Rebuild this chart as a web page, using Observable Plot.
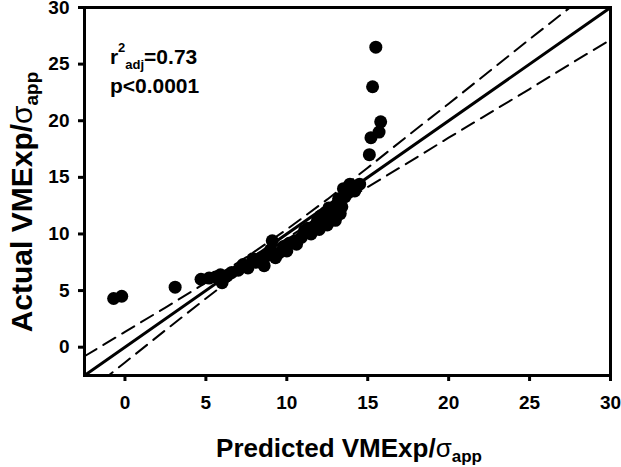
<!DOCTYPE html>
<html><head><meta charset="utf-8">
<script src="https://cdn.jsdelivr.net/npm/d3@7"></script>
<script src="https://cdn.jsdelivr.net/npm/@observablehq/plot@0.6"></script>
<style>
body{margin:0;background:#fff} svg{display:block}
</style>
</head><body><div id="chart"></div>
<script>
// Predicted vs actual VMExp/sigma_app
const predicted = [-0.7, -0.2, 3.1, 4.7, 5.2, 5.6, 5.9, 6.0, 6.3, 6.6, 7.0, 7.3, 7.6, 7.9, 8.1, 8.4, 8.6, 8.8, 9.0, 9.1,
  9.3, 9.5, 9.8, 10.0, 10.2, 10.5, 10.6, 10.9, 11.1, 11.3, 11.5, 11.7, 11.9, 12.0, 12.1, 12.3, 12.4, 12.5, 12.6, 12.8,
  12.9, 13.0, 13.1, 13.2, 13.3, 13.4, 13.5, 13.6, 13.9, 14.2, 14.5, 15.1, 15.2, 15.7, 15.8, 15.3, 15.5];
const actual = [4.3, 4.5, 5.3, 6.0, 6.1, 6.2, 6.4, 5.7, 6.3, 6.6, 6.8, 7.3, 7.0, 7.8, 7.5, 7.9, 7.2, 8.1, 8.6, 9.4,
  7.9, 8.3, 8.9, 8.5, 9.2, 9.4, 9.1, 9.7, 10.3, 10.5, 10.0, 10.7, 11.2, 10.4, 11.6, 11.0, 11.9, 10.8, 12.3, 11.4,
  12.0, 11.2, 12.6, 13.1, 11.8, 12.4, 14.0, 13.3, 14.4, 13.8, 14.4, 17.0, 18.5, 19.0, 19.9, 23.0, 26.5];
// 95% band (dashed)
const bandX = [-2.5, 0, 2.5, 5, 7.5, 10, 12.5, 15, 17.5, 20, 22.5, 25, 27.5, 30];
const bandUpper = [-0.8, 1.35, 3.5, 5.7, 7.95, 10.4, 13.05, 15.85, 18.7, 21.5, 24.35, 27.2, 30.0, 32.85];
const bandLower = [-4.2, -1.35, 1.5, 4.3, 7.05, 9.6, 11.95, 14.15, 16.3, 18.5, 20.65, 22.8, 25.0, 27.15];
const identityLine = [-2.5, 30];
const xTicks = [0, 5, 10, 15, 20, 25, 30];
const yTicks = [0, 5, 10, 15, 20, 25, 30];
const r2Value = "=0.73";
const pText = "p<0.0001";
const annotX = -0.9;
const annotY = [25.0, 22.4];

const points = predicted.map((x, i) => ({x, y: actual[i]}));
const band = bandX.map((x, i) => ({x, upper: bandUpper[i], lower: bandLower[i]}));

const font = "Arial, 'Liberation Sans', sans-serif";
const plot = Plot.plot({
  width: 621, height: 467,
  marginLeft: 84, marginRight: 11, marginTop: 7, marginBottom: 92,
  style: {fontFamily: font, fontSize: "19px", fontWeight: "bold", color: "black", background: "white", overflow: "visible"},
  x: {domain: [-2.5, 30]},
  y: {domain: [-2.5, 30]},
  marks: [
    Plot.line(band, {x: "x", y: "upper", stroke: "black", strokeWidth: 2, strokeDasharray: "14,8", clip: true}),
    Plot.line(band, {x: "x", y: "lower", stroke: "black", strokeWidth: 2, strokeDasharray: "14,8", clip: true}),
    Plot.line(identityLine, {x: d => d, y: d => d, stroke: "black", strokeWidth: 3, clip: true}),
    Plot.dot(points, {x: "x", y: "y", r: 6.5, fill: "black", stroke: null}),
    Plot.axisX({ticks: xTicks, tickSize: 6, tickPadding: 14, strokeWidth: 3, label: null, fontWeight: "bold"}),
    Plot.axisY({ticks: yTicks, tickSize: 6, tickPadding: 9, strokeWidth: 3, label: null, fontWeight: "bold"}),
    Plot.frame({stroke: "black", strokeWidth: 3})
  ]
});
document.getElementById("chart").appendChild(plot);

const svg = d3.select(plot);
svg.selectAll("text").attr("font-weight", "bold").style("font-weight", "bold").style("font-size", "19px");

const sx = plot.scale("x"), sy = plot.scale("y");
const [x0, x1] = sx.range, [y0, y1] = sy.range;

// x title
const xt = svg.append("text").attr("x", (x0 + x1) / 2 + 2).attr("y", y0 + 82)
  .attr("text-anchor", "middle").attr("font-size", 26).attr("font-weight", "bold").attr("font-family", font).attr("fill", "black");
xt.append("tspan").text("Predicted VMExp/");
xt.append("tspan").attr("font-weight", "normal").text("σ");
xt.append("tspan").attr("font-size", 17).attr("dy", 5).text("app");

// y title
const yt = svg.append("text").attr("transform", `translate(32, ${(y0 + y1) / 2 + 11}) rotate(-90)`)
  .attr("text-anchor", "middle").attr("font-size", 30).attr("font-weight", "bold").attr("font-family", font).attr("fill", "black");
yt.append("tspan").text("Actual VMExp/");
yt.append("tspan").attr("font-weight", "normal").text("σ");
yt.append("tspan").attr("font-size", 19).attr("dy", 6).text("app");

// annotation
const a1 = svg.append("text").attr("x", sx.apply(annotX)).attr("y", sy.apply(annotY[0]))
  .attr("text-anchor", "start")
  .attr("font-size", 21).attr("font-weight", "bold").attr("font-family", font).attr("fill", "black");
a1.append("tspan").text("r");
a1.append("tspan").attr("font-size", 13).attr("dy", -12).text("2");
a1.append("tspan").attr("font-size", 13).attr("dy", 17).text("adj");
a1.append("tspan").attr("dy", -5).text(r2Value);
svg.append("text").attr("x", sx.apply(annotX)).attr("y", sy.apply(annotY[1]))
  .attr("text-anchor", "start")
  .attr("font-size", 21).attr("font-weight", "bold").attr("font-family", font).attr("fill", "black").text(pText);
</script>
</body></html>
